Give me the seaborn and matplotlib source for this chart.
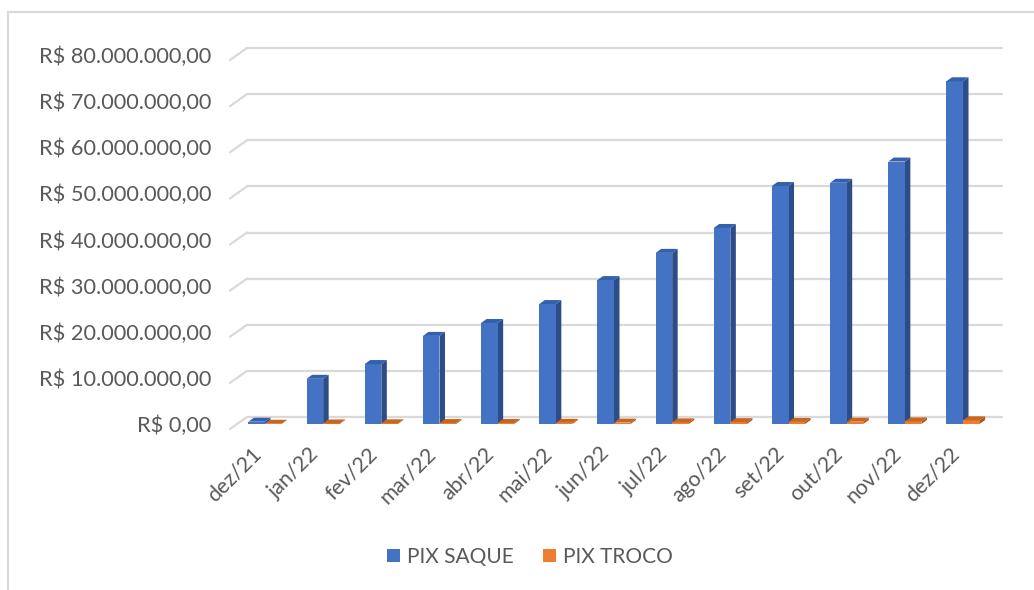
import numpy as np
import pandas as pd
import matplotlib.pyplot as plt
import seaborn as sns
from matplotlib.patches import Polygon
from matplotlib.lines import Line2D
from matplotlib.transforms import IdentityTransform
from matplotlib.ticker import FuncFormatter

# valores (R$)
meses = ["dez/21", "jan/22", "fev/22", "mar/22", "abr/22", "mai/22", "jun/22",
         "jul/22", "ago/22", "set/22", "out/22", "nov/22", "dez/22"]
pix_saque = np.array([0.5, 9.8, 13.0, 19.1, 21.9, 26.0, 31.2,
                      37.1, 42.5, 51.6, 52.3, 56.9, 74.3]) * 1e6
pix_troco = np.array([0.05, 0.12, 0.15, 0.2, 0.22, 0.25, 0.3,
                      0.35, 0.4, 0.45, 0.5, 0.55, 0.8]) * 1e6
series = ["PIX SAQUE", "PIX TROCO"]
y_ticks = np.arange(0, 80e6 + 1, 10e6)

front = {"PIX SAQUE": "#4472C4", "PIX TROCO": "#ED7D31"}
side = {"PIX SAQUE": "#2C4D88", "PIX TROCO": "#A9561F"}
top = {"PIX SAQUE": "#3560AE", "PIX TROCO": "#C8661F"}

df = pd.DataFrame({
    "mes": meses * 2,
    "valor": np.concatenate([pix_saque, pix_troco]),
    "serie": [series[0]] * len(meses) + [series[1]] * len(meses),
})

sns.set_style("white")
plt.rcParams["font.family"] = ["Lato", "DejaVu Sans"]
grey = "#595959"

W, H = 1034, 590
fig = plt.figure(figsize=(W / 100, H / 100), dpi=100)
ax = fig.add_axes([232 / W, 1 - 424 / H, (1002 - 232) / W, (424 - 55) / H])

sns.barplot(data=df, x="mes", y="valor", hue="serie", palette=front,
            width=0.57, gap=0, saturation=1, edgecolor="none", ax=ax)

ax.set_xlim(-0.567, 12.67)
ax.set_ylim(0, 80e6)
ax.set_yticks(y_ticks)
ax.yaxis.set_major_formatter(FuncFormatter(
    lambda v, p: "R$ " + f"{v:,.2f}".replace(",", "X").replace(".", ",").replace("X", ".")))
for s in ax.spines.values():
    s.set_visible(False)
ax.set_xlabel("")
ax.set_ylabel("")
ax.tick_params(axis="y", length=0, pad=15, labelsize=15.7, labelcolor=grey)
ax.tick_params(axis="x", length=0, pad=14, labelsize=15.4, labelcolor=grey)
plt.setp(ax.get_xticklabels(), rotation=45, ha="right", va="top")

# grade no fundo (efeito 3D)
ident = IdentityTransform()
for v in y_ticks:
    yb = ax.transData.transform((0, v))[1] + 7
    ax.add_line(Line2D([247, 1002], [yb, yb], transform=ident, color="#d9d9d9",
                       lw=1.6, zorder=0.5, clip_on=False))
    ax.add_line(Line2D([230, 247], [yb - 12, yb], transform=ident, color="#d9d9d9",
                       lw=1.6, zorder=0.5, clip_on=False))

# faces lateral e superior das barras
dx, dy = 5.5, 4
for i, (cont, nome) in enumerate(zip(ax.containers, series)):
    z = 3 + 2 * i
    for bar in cont:
        bx, bw, bh = bar.get_x(), bar.get_width(), bar.get_height()
        x0, y0 = ax.transData.transform((bx, 0))
        x1, y1 = ax.transData.transform((bx + bw, bh))
        bar.set_zorder(z)
        ax.add_patch(Polygon([(x1, y0), (x1, y1), (x1 + dx, y1 + dy), (x1 + dx, y0 + dy)],
                             closed=True, transform=ident, facecolor=side[nome],
                             edgecolor="none", zorder=z - 0.5, clip_on=False))
        ax.add_patch(Polygon([(x0, y1), (x1, y1), (x1 + dx, y1 + dy), (x0 + dx, y1 + dy)],
                             closed=True, transform=ident, facecolor=top[nome],
                             edgecolor="none", zorder=z + 0.5, clip_on=False))

handles, labels = ax.get_legend_handles_labels()
ax.legend(handles, labels, loc="center", bbox_to_anchor=(530 / W, 1 - 557 / H),
          bbox_transform=fig.transFigure, ncol=2, frameon=False, fontsize=15,
          labelcolor=grey, handlelength=0.62, handleheight=0.62,
          handletextpad=0.35, columnspacing=1.4)

# moldura clara do grafico
fig.add_artist(Line2D([7.5 / W, 7.5 / W], [0, 1 - 12 / H], color="#d9d9d9", lw=1.5))
fig.add_artist(Line2D([7.5 / W, 1], [1 - 12 / H, 1 - 12 / H], color="#d9d9d9", lw=1.5))

fig.savefig("out.png", dpi=100)
